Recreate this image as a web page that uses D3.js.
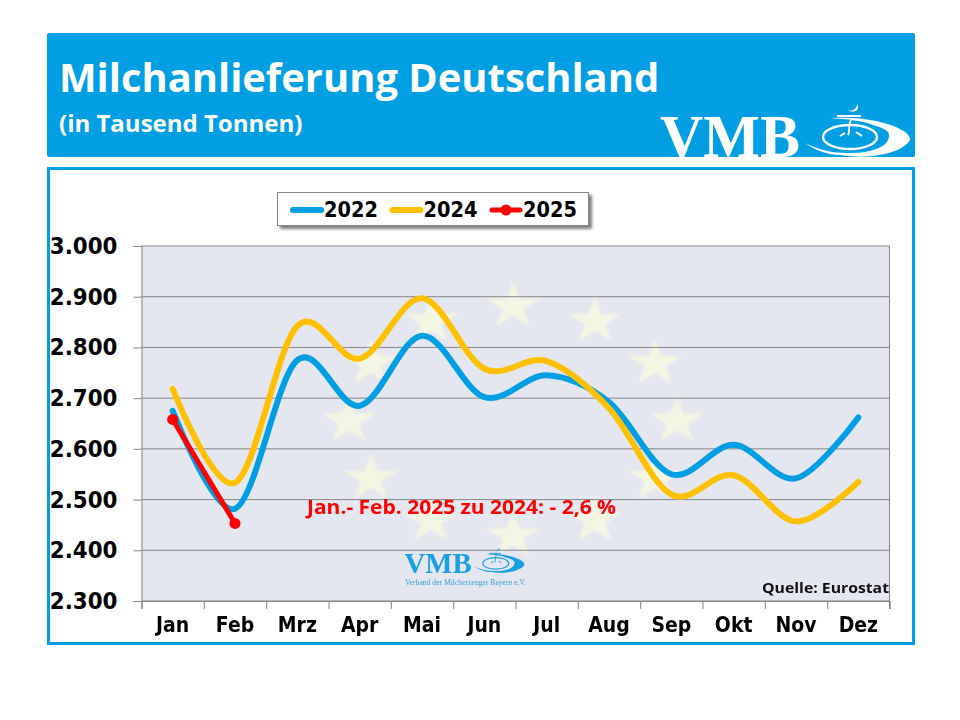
<!DOCTYPE html>
<html>
<head>
<meta charset="utf-8">
<script src="https://cdn.jsdelivr.net/npm/d3@7"></script>
<style>
  html, body { margin: 0; padding: 0; background: #fff; }
  svg { display: block; }
  text { font-family: "DejaVu Sans", sans-serif; }
</style>
</head>
<body>
<div id="graph-container"></div>
<script>
const months = ['Jan', 'Feb', 'Mrz', 'Apr', 'Mai', 'Jun', 'Jul', 'Aug', 'Sep', 'Okt', 'Nov', 'Dez'];
const values2022 = [2675, 2482, 2775, 2685, 2823, 2702, 2745, 2692, 2550, 2608, 2542, 2662];
const values2024 = [2718, 2533, 2842, 2778, 2897, 2758, 2773, 2680, 2510, 2548, 2457, 2535];
const values2025 = [2658, 2453];
const yTicks = [2300, 2400, 2500, 2600, 2700, 2800, 2900, 3000];
const legendYears = ['2022', '2024', '2025'];

const blue = '#009fe3';
const yellow = '#ffc000';
const red = '#ff0000';
const grey = '#868686';

const w = 960;
const h = 720;
const plot = { left: 141.5, right: 889.5, top: 246, bottom: 601 };

const svg = d3.select('#graph-container')
  .append('svg')
  .attr('width', w)
  .attr('height', h);

const defs = svg.append('defs');
defs.append('clipPath').attr('id', 'header-clip')
  .append('rect').attr('x', 47).attr('y', 33).attr('width', 868).attr('height', 124);
defs.append('filter').attr('id', 'soft')
  .append('feGaussianBlur').attr('stdDeviation', 1.6);
defs.append('filter').attr('id', 'legend-shadow')
  .attr('x', '-5%').attr('y', '-20%').attr('width', '110%').attr('height', '150%')
  .append('feDropShadow')
  .attr('dx', 3).attr('dy', 3).attr('stdDeviation', 1.6)
  .attr('flood-color', '#000').attr('flood-opacity', 0.5);

// DejaVu is wider than the font of the picture, so squeeze it a bit
function condense(sel, factor) {
  sel.each(function () {
    const len = this.getComputedTextLength();
    d3.select(this)
      .attr('textLength', len * factor)
      .attr('lengthAdjust', 'spacingAndGlyphs');
  });
}

// the logo is used twice, big in the header and small in the plot
function drawLogo(g, color) {
  g.append('text')
    .attr('x', -1).attr('y', 0)
    .attr('textLength', 140)
    .attr('lengthAdjust', 'spacingAndGlyphs')
    .style('font-family', '"Liberation Serif", serif')
    .style('font-weight', 'bold')
    .style('font-size', '62px')
    .attr('fill', color)
    .text('VMB');
  g.append('path')
    .attr('fill', color)
    .attr('d', 'M144,-14 C155,-6 168,-2 179,-2 C192,0 204,0 212,-1 C228,-3 244,-8 249,-17 C250,-24 236,-31 219,-35 C205,-39 186,-40 169,-39 C186,-38 202,-36 212,-32 C222,-29 229,-26 228,-21 C228,-14 220,-9 212,-7 C202,-4 194,-4 186,-4 C172,-4 158,-7 144,-14 Z');
  g.append('ellipse')
    .attr('cx', 189).attr('cy', -20).attr('rx', 27).attr('ry', 12)
    .attr('fill', 'none').attr('stroke', color).attr('stroke-width', 2.4);
  g.append('path')
    .attr('fill', 'none').attr('stroke', color).attr('stroke-width', 2)
    .attr('d', 'M190,-37 C186,-31 190,-27 187,-22 M179,-21 L184,-24 M195,-25 L201,-21 M176,-41 L200,-41');
  g.append('path')
    .attr('fill', color)
    .attr('d', 'M196,-53 C196,-48 191,-45 186,-47 C191,-44 200,-45 196,-53 Z');
}

// header
svg.append('rect')
  .attr('x', 47).attr('y', 33).attr('width', 868).attr('height', 124).attr('rx', 2)
  .attr('fill', blue);

svg.append('text')
  .attr('x', 59).attr('y', 92)
  .style('font-family', '"Open Sans", sans-serif')
  .style('font-weight', 'bold')
  .style('font-size', '40px')
  .attr('fill', '#fff')
  .text('Milchanlieferung Deutschland')
  .call(condense, 0.997);

svg.append('text')
  .attr('x', 59).attr('y', 132)
  .style('font-family', '"Open Sans", sans-serif')
  .style('font-weight', 'bold')
  .style('font-size', '24px')
  .attr('fill', '#fff')
  .text('(in Tausend Tonnen)');

drawLogo(svg.append('g')
  .attr('clip-path', 'url(#header-clip)')
  .append('g')
  .attr('transform', 'translate(661,157)'), '#fff');

// chart frame
svg.append('rect')
  .attr('x', 48.5).attr('y', 168.5).attr('width', 865).attr('height', 475)
  .attr('fill', '#fff')
  .attr('stroke', blue)
  .attr('stroke-width', 3);

// plot background
svg.append('rect')
  .attr('x', plot.left).attr('y', plot.top)
  .attr('width', plot.right - plot.left).attr('height', plot.bottom - plot.top)
  .attr('fill', '#e4e6f0');

// EU stars behind the grid
const starCount = d3.range(12);
svg.append('g')
  .attr('filter', 'url(#soft)')
  .selectAll('path')
  .data(starCount)
  .enter().append('path')
  .attr('d', d3.symbol(d3.symbolStar).size(700))
  .attr('transform', d => {
    const a = d * Math.PI / 6;
    return `translate(${513 + 164 * Math.sin(a)},${421 - 115 * Math.cos(a)}) scale(1.15,1)`;
  })
  .attr('fill', '#f4f5e3');

const xBand = d3.scaleBand()
  .domain(months)
  .range([plot.left, plot.right]);

const xEdges = d3.scaleLinear()
  .domain([0, months.length])
  .range([plot.left, plot.right]);

const yScale = d3.scaleLinear()
  .domain([2300, 3000])
  .range([plot.bottom, plot.top]);

const de = d3.formatLocale({ decimal: ',', thousands: '.', grouping: [3], currency: ['', ''] });

// y axis
const yAxis = svg.append('g')
  .attr('transform', `translate(${plot.left},0)`)
  .call(d3.axisLeft(yScale).tickValues(yTicks).tickFormat(de.format(',')).tickSize(8).tickPadding(4));
yAxis.selectAll('.tick line').attr('stroke', grey).attr('stroke-width', 1);
yAxis.select('.domain').attr('stroke', grey).attr('stroke-width', 1);
yAxis.selectAll('text')
  .attr('x', -24)
  .attr('fill', '#000')
  .style('font-family', '"DejaVu Sans", sans-serif')
  .style('font-weight', 'bold')
  .style('font-size', '23.5px')
  .call(condense, 0.91);

svg.append('g')
  .selectAll('line')
  .data(yTicks)
  .enter().append('line')
  .attr('x1', plot.left).attr('x2', plot.right)
  .attr('y1', d => yScale(d)).attr('y2', d => yScale(d))
  .attr('stroke', grey)
  .attr('stroke-width', 1);

svg.append('line')
  .attr('x1', plot.right).attr('x2', plot.right)
  .attr('y1', plot.top).attr('y2', plot.bottom + 8)
  .attr('stroke', grey);

// x axis: ticks sit on the category edges, labels in the middle
const xTickAxis = svg.append('g')
  .attr('transform', `translate(0,${plot.bottom})`)
  .call(d3.axisBottom(xEdges).ticks(months.length).tickFormat('').tickSize(8));
xTickAxis.selectAll('line').attr('stroke', grey);
xTickAxis.select('.domain').attr('stroke', grey);

const xLabelAxis = svg.append('g')
  .attr('transform', `translate(0,${plot.bottom})`)
  .call(d3.axisBottom(xBand).tickSize(0).tickPadding(16));
xLabelAxis.select('.domain').remove();
xLabelAxis.selectAll('text')
  .attr('fill', '#000')
  .style('font-family', '"DejaVu Sans", sans-serif')
  .style('font-weight', 'bold')
  .style('font-size', '20.5px')
  .call(condense, 0.92);

// small logo inside the plot
const smallLogo = svg.append('g').attr('transform', 'translate(405,573)');
drawLogo(smallLogo.append('g').attr('transform', 'scale(0.48)'), '#1a9fe0');
smallLogo.append('text')
  .attr('x', 0).attr('y', 12)
  .attr('textLength', 121)
  .attr('lengthAdjust', 'spacingAndGlyphs')
  .style('font-family', '"Liberation Serif", serif')
  .style('font-size', '7.5px')
  .attr('fill', '#3a9fd8')
  .text('Verband der Milcherzeuger Bayern e.V.');

// lines
const xPos = (d, i) => xBand(months[i]) + xBand.bandwidth() / 2;

const smoothLine = d3.line()
  .x(xPos)
  .y(d => yScale(d))
  .curve(d3.curveCatmullRom.alpha(0));

const straightLine = d3.line()
  .x(xPos)
  .y(d => yScale(d));

function drawSeries(values, lineGen, color, width) {
  svg.append('path')
    .datum(values)
    .attr('d', lineGen)
    .attr('fill', 'none')
    .attr('stroke', color)
    .attr('stroke-width', width)
    .attr('stroke-linecap', 'round');
}

drawSeries(values2022, smoothLine, blue, 6);
drawSeries(values2024, smoothLine, yellow, 6);
drawSeries(values2025, straightLine, red, 5);

svg.selectAll('circle.dot')
  .data(values2025)
  .enter().append('circle')
  .attr('class', 'dot')
  .attr('cx', xPos)
  .attr('cy', d => yScale(d))
  .attr('r', 5.5)
  .attr('fill', red);

// annotation and source
svg.append('text')
  .attr('x', 307).attr('y', 514)
  .style('font-family', '"Open Sans", sans-serif')
  .style('font-weight', 'bold')
  .style('font-size', '19px')
  .attr('fill', red)
  .text('Jan.- Feb. 2025 zu 2024: - 2,6 %')
  .attr('textLength', 309)
  .attr('lengthAdjust', 'spacingAndGlyphs');

svg.append('text')
  .attr('x', 762).attr('y', 593)
  .style('font-family', '"Open Sans", sans-serif')
  .style('font-weight', 'bold')
  .style('font-size', '15px')
  .attr('fill', '#111')
  .text('Quelle: Eurostat')
  .attr('textLength', 127)
  .attr('lengthAdjust', 'spacingAndGlyphs');

// legend
svg.append('rect')
  .attr('x', 277.5).attr('y', 192.5).attr('width', 311).attr('height', 33)
  .attr('fill', '#fff')
  .attr('stroke', grey)
  .attr('stroke-width', 1)
  .attr('filter', 'url(#legend-shadow)');

const legendX = d3.scalePoint()
  .domain(legendYears)
  .range([291, 490]);
const legendColors = d3.scaleOrdinal().domain(legendYears).range([blue, yellow, red]);

const legendItem = svg.append('g')
  .selectAll('g')
  .data(legendYears)
  .enter().append('g')
  .attr('transform', d => `translate(${legendX(d)},210)`);

legendItem.append('line')
  .attr('x1', 2).attr('x2', 30)
  .attr('stroke', d => legendColors(d))
  .attr('stroke-width', d => d === '2025' ? 5 : 6)
  .attr('stroke-linecap', 'round');

legendItem.filter(d => d === '2025')
  .append('circle')
  .attr('cx', 16).attr('r', 5.5)
  .attr('fill', red);

legendItem.append('text')
  .attr('x', 33).attr('y', 7)
  .style('font-weight', 'bold')
  .style('font-size', '22px')
  .attr('fill', '#000')
  .text(d => d)
  .call(condense, 0.88);
</script>
</body>
</html>
